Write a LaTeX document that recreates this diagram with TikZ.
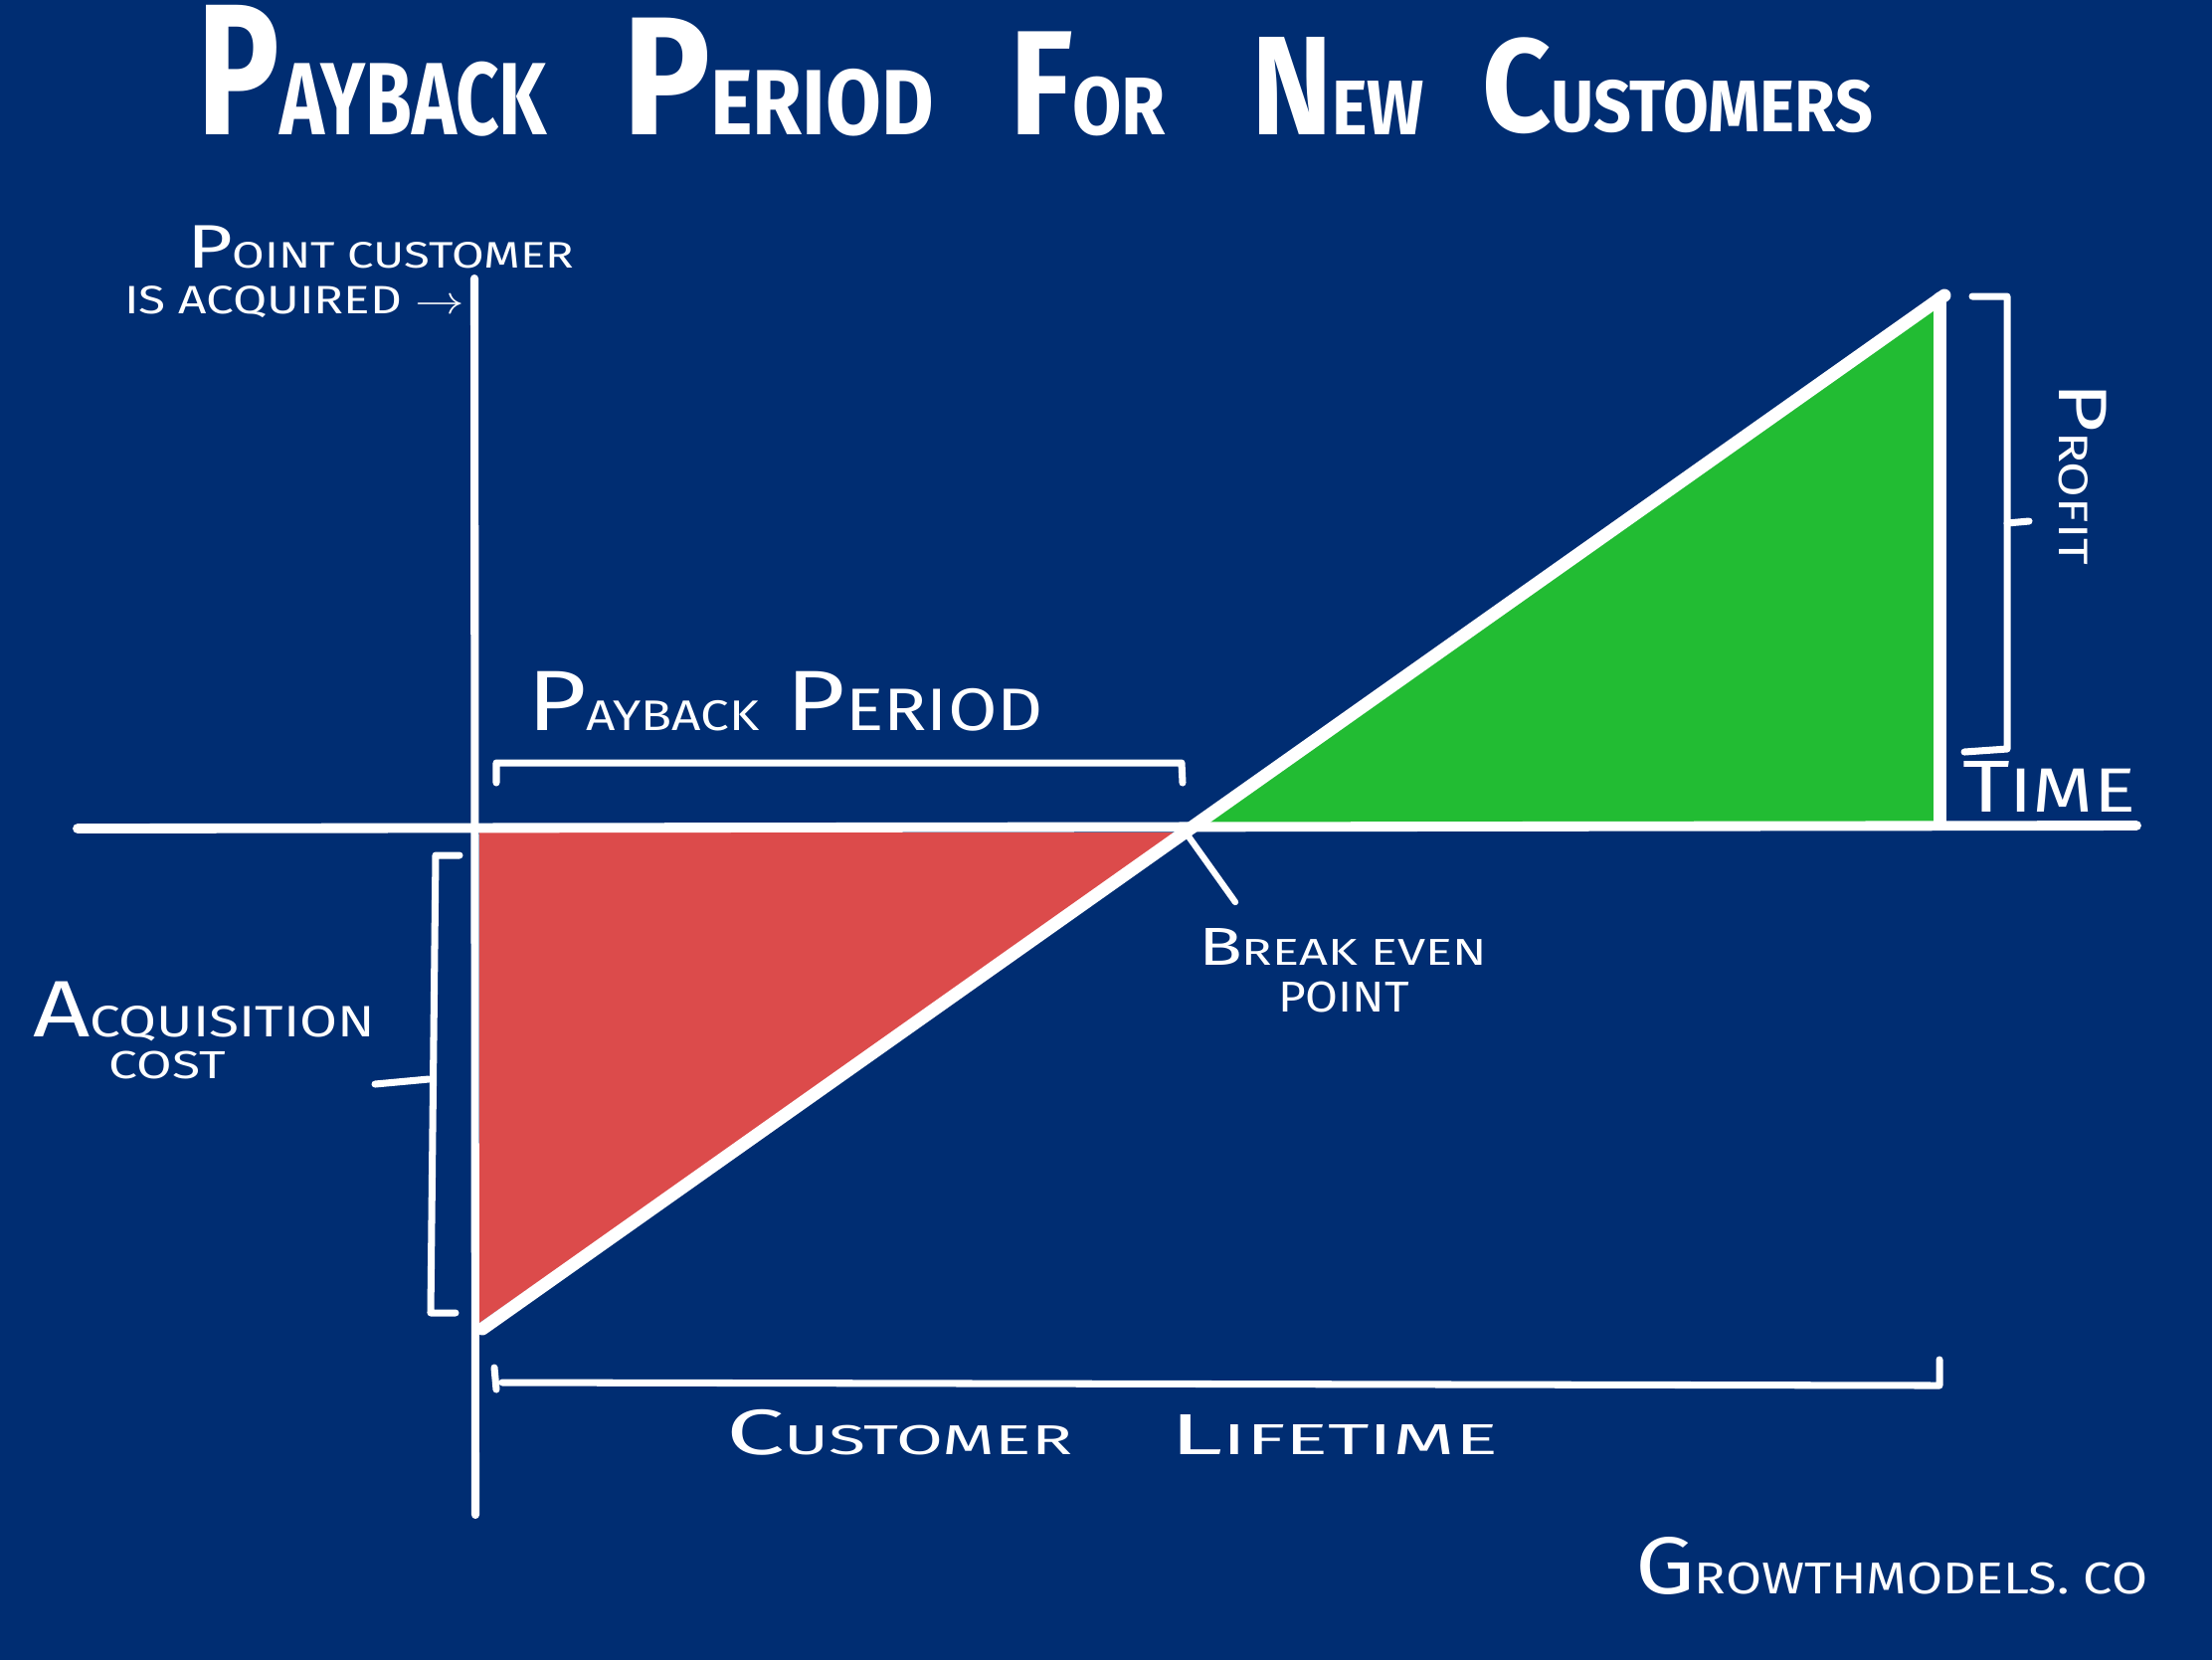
\documentclass[tikz,border=0pt]{standalone}
\usepackage{graphicx}
\usepackage{fontspec}
\setmainfont{Fira Sans}
\newdimen\mypx \mypx=0.01cm
\newcommand\smc[2][0.55]{\scalebox{#1}{#2}}
\newcommand\fitt[3]{\resizebox*{#1\mypx}{#2\mypx}{#3}}
\definecolor{bgblue}{RGB}{0,45,114}
\definecolor{costred}{RGB}{220,75,75}
\definecolor{profgreen}{RGB}{34,188,51}
\tikzset{
  axisline/.style={white, line width=2.8pt, line cap=round},
  thickline/.style={white, line width=3.7pt, line cap=round, line join=round},
  brk/.style={white, line width=2pt, line cap=round, line join=round},
  lbl/.style={text=white, inner sep=0pt, outer sep=0pt, anchor=north west},
  ttl/.style={lbl, font=\bfseries},
}
\begin{document}
\begin{tikzpicture}[x=0.01cm,y=-0.01cm]
\useasboundingbox (0,0) rectangle (2224,1668);
\fill[bgblue] (-20,-20) rectangle (2244,1688);

% key points
\coordinate (origin) at (480,835);
\coordinate (be) at (1190,834);
\coordinate (low) at (485,1336);
\coordinate (high) at (1955,297);

% filled areas
\fill[costred] (482,837) -- (1190,837) -- (482,1330) -- cycle;
\fill[profgreen] (1192,830) -- (1950,300) -- (1950,830) -- cycle;

% axes
\coordinate (xl) at (78,833);
\coordinate (xr) at (2148,830);
\coordinate (yt) at (477,280);
\coordinate (yb) at (478,1523);
\draw[axisline] (xl) -- (xr);
\draw[white, line width=2.3pt, line cap=round] (yt) -- (yb);

% diagonal and right edge
\draw[thickline] (low) -- (high);
\coordinate (edget) at (1950,300);
\coordinate (edgeb) at (1950,828);
\draw[thickline] (edget) -- (edgeb);

% payback bracket
\draw[brk] (499,787) -- (499,767) -- (1188,767) -- (1189,787);
% break-even tick
\coordinate (betick) at (1242,907);
\draw[white, line width=1.8pt, line cap=round] (be) -- (betick);
% acquisition bracket
\draw[brk] (462,860) -- (438,860) -- (433,1320) -- (458,1320);
\draw[brk] (377,1090) -- (431,1085);
% lifetime bracket
\draw[brk] (497,1375) -- (499,1397);
\draw[brk] (505,1390) -- (1950,1393) -- (1950,1367);
% profit bracket
\draw[brk] (1983,298) -- (2018,298) -- (2018,753) -- (1975,756);
\draw[brk] (2018,526) -- (2040,524);

% title
\node[ttl] (t1) at (199,5)   {\fitt{351}{132}{P\smc{AYBACK}}};
\node[ttl] (t2) at (626,18)  {\fitt{313}{119}{P\smc{ERIOD}}};
\node[ttl] (t3) at (1015,32) {\fitt{157}{105}{F\smc{OR}}};
\node[ttl] (t4) at (1258,37) {\fitt{174}{98}{N\smc{EW}}};
\node[ttl] (t5) at (1490,38) {\fitt{393}{97}{C\smc{USTOMERS}}};

% labels
\node[lbl] (pc1) at (188,227) {\fitt{389}{43}{P\smc[0.6]{OINT CUSTOMER}}};
\node[lbl] (pc2) at (125,288) {\fitt{342}{32}{IS ACQUIRED $\rightarrow$}};
\node[lbl] (pp) at (530,675) {\fitt{519}{60}{P\smc[0.5]{AYBACK} P\smc[0.7]{ERIOD}}};
\node[lbl] (be1) at (1205,933) {\fitt{290}{37}{B\smc[0.7]{REAK EVEN}}};
\node[lbl] (be2) at (1285,987) {\fitt{132}{31}{POINT}};
\node[lbl] (ac1) at (33,987) {\fitt{344}{60}{A\smc{CQUISITION}}};
\node[lbl] (ac2) at (110,1057) {\fitt{117}{28}{COST}};
\node[lbl] (cl1) at (730,1417) {\fitt{348}{46}{C\smc[0.65]{USTOMER}}};
\node[lbl] (cl2) at (1176,1422) {\fitt{330}{40}{L\smc[0.75]{IFETIME}}};
\node[lbl] (gm) at (1644,1545) {\fitt{515}{58}{G\smc{ROWTHMODELS. CO}}};
\node[text=white, inner sep=0pt, rotate=-90] (pr) at (2094,476) {\fitt{184}{48}{P\smc[0.6]{ROFIT}}};
\node[lbl] (tm) at (1973,765) {\fitt{174}{51}{T\smc[0.85]{IME}}};
\end{tikzpicture}
\end{document}
